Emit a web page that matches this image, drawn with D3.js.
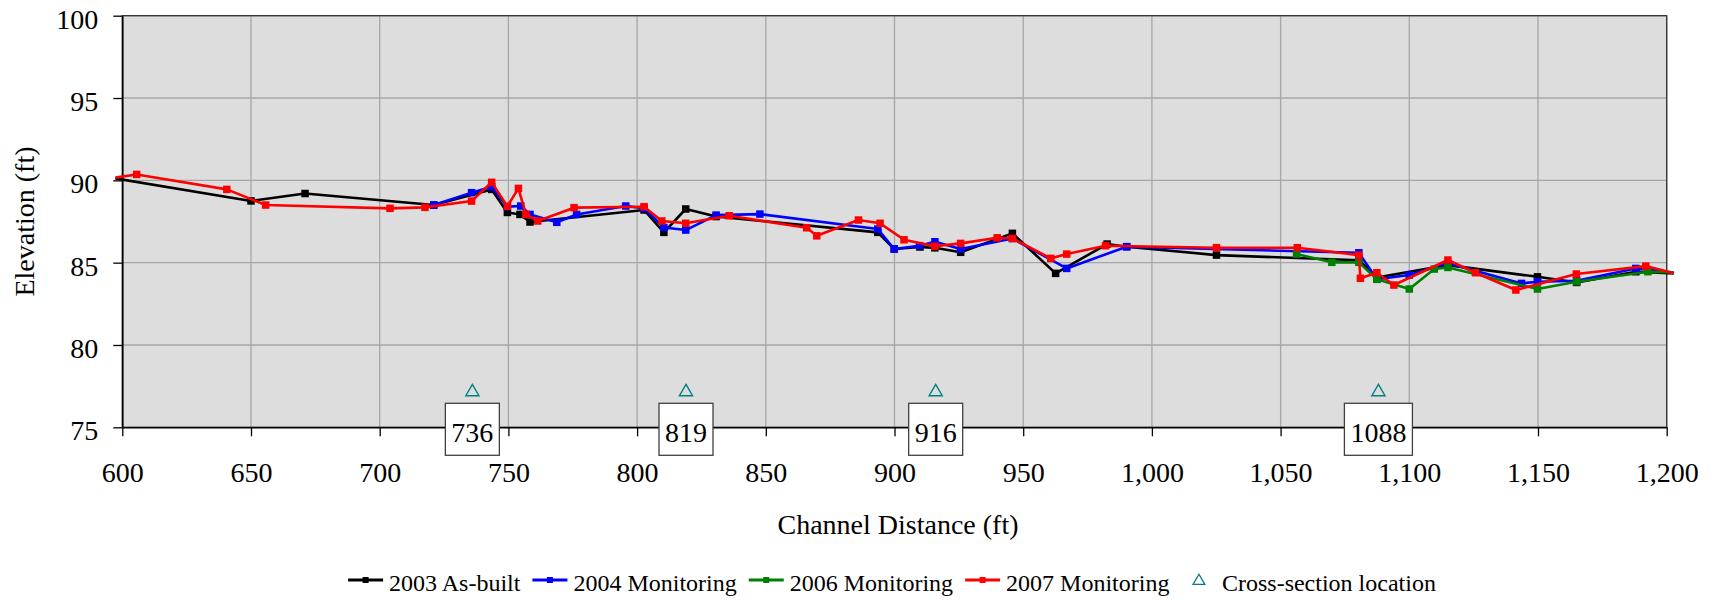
<!DOCTYPE html>
<html>
<head>
<meta charset="utf-8">
<script src="https://d3js.org/d3.v7.min.js"></script>
<style>
  html, body { margin: 0; padding: 0; background: #fff; }
  svg { display: block; font-family: "Liberation Serif", "Times New Roman", serif; }
</style>
</head>
<body>
<svg id="chart" width="1722" height="600"></svg>
<script>
// Longitudinal profile survey data: [channel distance (ft), elevation (ft)]
const asBuilt2003 = [
  [597, 90.12], [650, 88.75], [671, 89.2], [721, 88.5], [743.5, 89.45], [749.6, 88.05],
  [754.5, 87.93], [758.4, 87.47], [802.7, 88.2], [810.4, 86.84], [818.9, 88.26], [830.7, 87.8],
  [893.5, 86.84], [899.9, 85.83], [909.9, 85.95], [915.7, 85.9], [925.7, 85.63], [945.8, 86.78],
  [962.6, 84.35], [982.6, 86.13], [990.2, 85.97], [1025.1, 85.46], [1080.4, 85.15], [1087.4, 84.1],
  [1115, 84.85], [1149.8, 84.14], [1165, 83.8], [1188, 84.45], [1203, 84.35]
];
const monitoring2004 = [
  [721, 88.5], [735.7, 89.25], [743.5, 89.61], [749.6, 88.4], [754.8, 88.44], [758.4, 87.93],
  [768.8, 87.45], [776.5, 87.93], [795.6, 88.44], [802.7, 88.3], [810.4, 87.14], [818.9, 86.98],
  [830.7, 87.89], [847.7, 87.95], [893.5, 87.04], [899.9, 85.83], [909.7, 86.03], [915.7, 86.27],
  [925.7, 85.83], [945.8, 86.47], [966.9, 84.65], [990.2, 85.97], [1080.4, 85.6], [1087.4, 83.99],
  [1100, 84.25], [1115, 84.96], [1143.6, 83.74], [1149.8, 83.84], [1165, 83.9], [1188, 84.65],
  [1203, 84.4]
];
const monitoring2006 = [
  [1056.2, 85.52], [1069.9, 85.02], [1080.4, 85.02], [1087.4, 83.99], [1100, 83.4],
  [1109.7, 84.61], [1115, 84.71], [1149.8, 83.4], [1165, 83.84], [1192.7, 84.45], [1203, 84.4]
];
const monitoring2007 = [
  [597, 90.16], [605.6, 90.36], [640.6, 89.45], [655.7, 88.5], [704, 88.3], [717.6, 88.36],
  [735.7, 88.74], [743.5, 89.88], [749.6, 88.42], [753.9, 89.51], [756.8, 87.93], [761.4, 87.53],
  [775.5, 88.34], [802.7, 88.4], [809.6, 87.53], [818.9, 87.39], [835.8, 87.85], [865.9, 87.12],
  [869.8, 86.63], [886, 87.59], [894.4, 87.39], [903.7, 86.39], [915.7, 86.0], [925.7, 86.17],
  [939.9, 86.51], [945.8, 86.47], [960.7, 85.26], [966.9, 85.52], [982, 86.03], [1025.1, 85.91],
  [1056.5, 85.91], [1080.4, 85.46], [1081, 84.05], [1087.4, 84.39], [1094, 83.64], [1115, 85.16],
  [1125.7, 84.39], [1141.4, 83.34], [1164.9, 84.31], [1191.9, 84.79], [1203, 84.35]
];
const crossSections = [736, 819, 916, 1088];
const crossSectionElevation = 77.15;

const seriesNames = ["2003 As-built", "2004 Monitoring", "2006 Monitoring", "2007 Monitoring"];
const seriesColors = ["#000000", "#0000ff", "#008000", "#ff0000"];
const crossSectionName = "Cross-section location";
const crossSectionColor = "#008080";

const xTicks = d3.range(600, 1201, 50);
const yTicks = [75, 80, 85, 90, 95, 100];
const xTitle = "Channel Distance (ft)";
const yTitle = "Elevation (ft)";

const series = [asBuilt2003, monitoring2004, monitoring2006, monitoring2007].map((values, i) => ({
  name: seriesNames[i], color: seriesColors[i], values
}));

// Layout
const plot = { left: 122.3, right: 1666.7, top: 15.7, bottom: 427.3 };
const svg = d3.select("#chart");

const x = d3.scaleLinear().domain([600, 1200]).range([plot.left, plot.right]);
const y = d3.scaleLinear().domain([75, 100]).range([plot.bottom, plot.top]);

// Plot background
svg.append("rect")
  .attr("x", plot.left).attr("y", plot.top)
  .attr("width", plot.right - plot.left).attr("height", plot.bottom - plot.top)
  .attr("fill", "#dddddd");

// Gridlines
const grid = svg.append("g").attr("stroke", "#a6a6a6").attr("stroke-width", 1.3);
grid.selectAll("line.v").data(xTicks).join("line")
  .attr("x1", d => x(d)).attr("x2", d => x(d))
  .attr("y1", plot.top).attr("y2", plot.bottom);
grid.selectAll("line.h").data(yTicks).join("line")
  .attr("x1", plot.left).attr("x2", plot.right)
  .attr("y1", d => y(d)).attr("y2", d => y(d));

// Plot frame
svg.append("rect")
  .attr("x", plot.left).attr("y", plot.top)
  .attr("width", plot.right - plot.left).attr("height", plot.bottom - plot.top)
  .attr("fill", "none").attr("stroke", "#333").attr("stroke-width", 1.3);

// Axes
const xAxis = svg.append("g")
  .attr("transform", `translate(0,${plot.bottom})`)
  .call(d3.axisBottom(x).tickValues(xTicks).tickFormat(d3.format(",")).tickSize(9).tickSizeOuter(0).tickPadding(26));
const yAxis = svg.append("g")
  .attr("transform", `translate(${plot.left},0)`)
  .call(d3.axisLeft(y).tickValues(yTicks).tickSize(9).tickSizeOuter(0).tickPadding(15));

[xAxis, yAxis].forEach(g => {
  g.select(".domain").attr("stroke", "#000").attr("stroke-width", 1.6);
  g.selectAll(".tick line").attr("stroke", "#000").attr("stroke-width", 1.3);
  g.selectAll(".tick text")
    .attr("font-family", "Liberation Serif, Times New Roman, serif")
    .attr("font-size", 28).attr("fill", "#000");
});
yAxis.selectAll(".tick text").attr("dy", "0.45em");

// Axis titles
svg.append("text")
  .attr("x", 898).attr("y", 534)
  .attr("text-anchor", "middle").attr("font-size", 28).attr("fill", "#000")
  .text(xTitle);
svg.append("text")
  .attr("transform", `translate(34,${(plot.top + plot.bottom) / 2}) rotate(-90)`)
  .attr("text-anchor", "middle").attr("font-size", 28).attr("fill", "#000")
  .text(yTitle);

// Data lines, slightly overrunning the plot edges like the survey ends
svg.append("clipPath").attr("id", "plot-clip")
  .append("rect")
  .attr("x", plot.left - 7).attr("y", plot.top - 10)
  .attr("width", plot.right - plot.left + 14).attr("height", plot.bottom - plot.top + 20);

const line = d3.line().x(d => x(d[0])).y(d => y(d[1]));
const markerSize = 7.5;

const dataLayer = svg.append("g").attr("clip-path", "url(#plot-clip)");
series.forEach(s => {
  const g = dataLayer.append("g");
  g.append("path")
    .attr("d", line(s.values))
    .attr("fill", "none").attr("stroke", s.color)
    .attr("stroke-width", 2.6).attr("stroke-linejoin", "round");
  g.selectAll("rect")
    .data(s.values.filter(d => d[0] >= 600 && d[0] <= 1200))
    .join("rect")
    .attr("x", d => x(d[0]) - markerSize / 2)
    .attr("y", d => y(d[1]) - markerSize / 2)
    .attr("width", markerSize).attr("height", markerSize)
    .attr("fill", s.color);
});

// Cross-section markers
const triangle = d3.symbol().type(d3.symbolTriangle).size(75);
svg.append("g").selectAll("path")
  .data(crossSections).join("path")
  .attr("transform", d => `translate(${x(d)},${y(crossSectionElevation)})`)
  .attr("d", triangle)
  .attr("fill", "none").attr("stroke", crossSectionColor).attr("stroke-width", 1.4);

// Cross-section labels in boxes
const labels = svg.append("g").selectAll("g")
  .data(crossSections).join("g")
  .attr("transform", d => `translate(${x(d)},0)`);
labels.append("rect").attr("class", "box");
labels.append("text")
  .attr("x", 0).attr("y", 441.5)
  .attr("text-anchor", "middle").attr("font-size", 28).attr("fill", "#000")
  .text(d => d);
labels.each(function () {
  const g = d3.select(this);
  const w = g.select("text").node().getComputedTextLength() + 12;
  g.select("rect")
    .attr("x", -w / 2).attr("y", 403.3)
    .attr("width", w).attr("height", 52)
    .attr("fill", "#fff").attr("stroke", "#404040").attr("stroke-width", 1.3);
});

// Legend
const legendItems = series.map(s => ({ name: s.name, color: s.color, type: "line" }))
  .concat([{ name: crossSectionName, color: crossSectionColor, type: "triangle" }]);
const legend = svg.append("g").attr("font-size", 24);
const legendY = 580;
let cursor = 0;
const legendGroups = legendItems.map(item => {
  const g = legend.append("g");
  if (item.type === "line") {
    g.append("line").attr("x1", 0).attr("x2", 35).attr("y1", legendY).attr("y2", legendY)
      .attr("stroke", item.color).attr("stroke-width", 3);
    g.append("rect").attr("x", 17.5 - 3).attr("y", legendY - 3).attr("width", 6).attr("height", 6)
      .attr("fill", item.color);
  } else {
    g.append("path").attr("transform", `translate(${17.5},${legendY + 1})`)
      .attr("d", d3.symbol().type(d3.symbolTriangle).size(60))
      .attr("fill", "none").attr("stroke", item.color).attr("stroke-width", 1.3);
  }
  const t = g.append("text").attr("x", item.type === "line" ? 41 : 40.5).attr("y", legendY + 10.5)
    .attr("fill", "#000").text(item.name);
  const w = (item.type === "line" ? 41 : 40.5) + t.node().getComputedTextLength();
  g.attr("transform", `translate(${cursor},0)`);
  cursor += w + 12;
  return g;
});
const legendWidth = cursor - 12;
legend.attr("transform", `translate(${892 - legendWidth / 2},0)`);
</script>
</body>
</html>
